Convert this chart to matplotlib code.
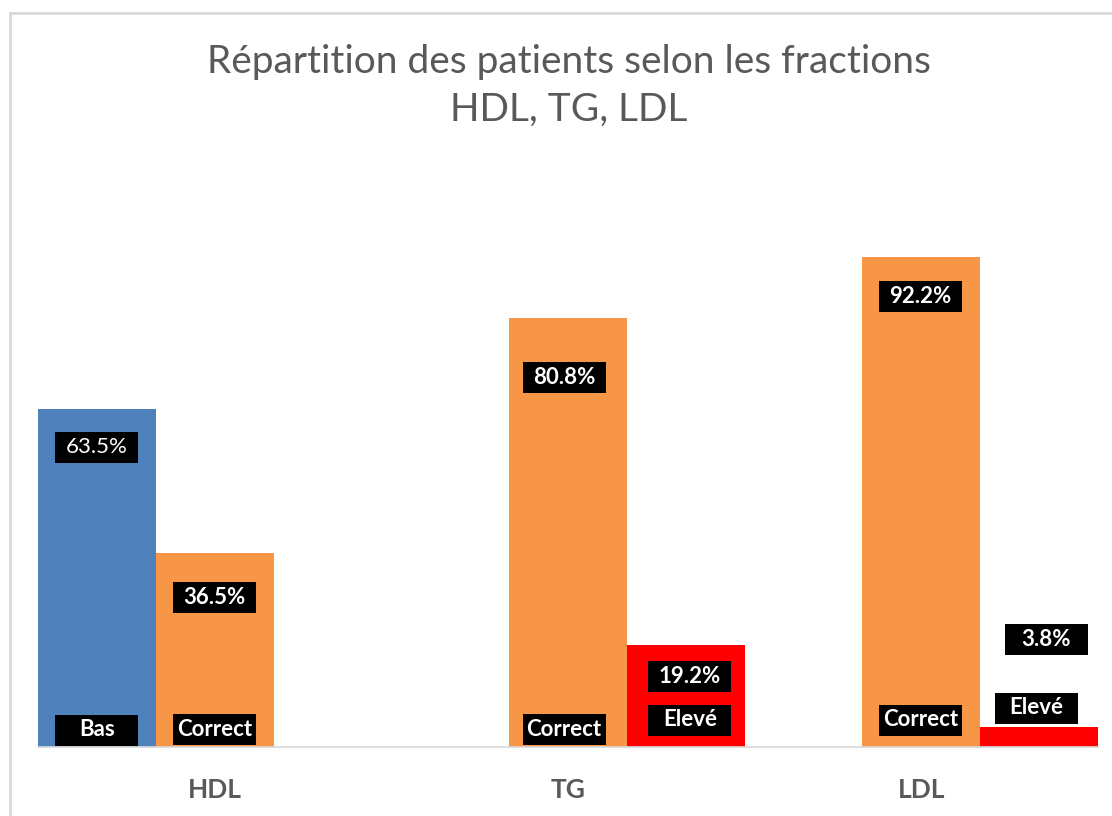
import matplotlib
matplotlib.use("Agg")
import matplotlib.pyplot as plt
from matplotlib.patches import Rectangle
import numpy as np

plt.rcParams['font.family'] = ['Lato', 'DejaVu Sans']

# ---- data ----
categories = ["HDL", "TG", "LDL"]
series_names = ["Bas", "Correct", "Elevé"]
bas = [63.5, 0, 0]
correct = [36.5, 80.8, 92.2]
eleve = [0, 19.2, 3.8]
colors = ["#4F81BD", "#F79646", "#FF0000"]
title_line1 = "Répartition des patients selon les fractions"
title_line2 = "HDL, TG, LDL"

# label placement (pixel offsets) : (series index, category index) -> (dx, dy below bar top)
value_label_offsets = {
    (0, 0): (0, 38), (1, 0): (0, 44),
    (1, 1): (-4, 60), (2, 1): (4, 32),
    (1, 2): (-1, 40), (2, 2): (7, -87),
}
# (dx, dy above baseline)
name_label_offsets = {
    (0, 0): (0, 17), (1, 0): (0, 18),
    (1, 1): (-4, 18), (2, 1): (4, 27),
    (1, 2): (-1, 27), (2, 2): (-3, 39),
}

W, H = 1112, 816
fig = plt.figure(figsize=(W / 100, H / 100), dpi=100)
# axes placement in pixels
L, R, B, T = 38, 1098, 747, 215.5
ax = fig.add_axes([L / W, 1 - B / H, (R - L) / W, (B - T) / H])

n = len(categories)
width = 1 / 3
x = np.arange(n)
all_series = [bas, correct, eleve]
for i, vals in enumerate(all_series):
    ax.bar(x + (i - 1) * width, vals, width=width, color=colors[i], linewidth=0, zorder=2)

ax.set_xlim(-0.5, n - 0.5)
ax.set_ylim(0, 100)
for s in ["top", "right", "left"]:
    ax.spines[s].set_visible(False)
ax.spines["bottom"].set_color("#D9D9D9")
ax.spines["bottom"].set_linewidth(1.2)
ax.set_yticks([])
ax.set_xticks(x)
ax.set_xticklabels(categories, fontsize=19, fontweight="bold", color="#595959")
ax.tick_params(axis="x", length=0, pad=22)

px_x = (n) / (R - L)      # data units per pixel (x)
px_y = 100 / (B - T)      # data units per pixel (y)
box_w, box_h = 83, 31


def box(cx, cy, text, weight="bold"):
    ax.add_patch(Rectangle((cx - box_w / 2 * px_x, cy - box_h / 2 * px_y),
                           box_w * px_x, box_h * px_y, facecolor="black",
                           edgecolor="none", zorder=3, clip_on=False))
    ax.text(cx, cy, text, ha="center", va="center", color="white",
            fontsize=16, fontweight=weight, zorder=4)


for (si, ci), (dx, dy) in value_label_offsets.items():
    v = all_series[si][ci]
    cx = x[ci] + (si - 1) * width + dx * px_x
    cy = v - dy * px_y
    box(cx, cy, f"{v:.1f}%", "normal" if (si, ci) == (0, 0) else "bold")

for (si, ci), (dx, dy) in name_label_offsets.items():
    cx = x[ci] + (si - 1) * width + dx * px_x
    cy = dy * px_y
    box(cx, cy, series_names[si])

fig.text(569 / W, 1 - 62 / H, title_line1, ha="center", va="center", fontsize=28,
         color="#595959")
fig.text(569 / W, 1 - 110 / H, title_line2, ha="center", va="center", fontsize=28,
         color="#595959")

# chart border (top/left visible)
fig.add_artist(plt.Line2D([9.5 / W, 1], [1 - 12.5 / H, 1 - 12.5 / H], color="#D9D9D9", lw=2))
fig.add_artist(plt.Line2D([9.5 / W, 9.5 / W], [0, 1 - 12.5 / H], color="#D9D9D9", lw=2))

fig.savefig("out.png", dpi=100)
